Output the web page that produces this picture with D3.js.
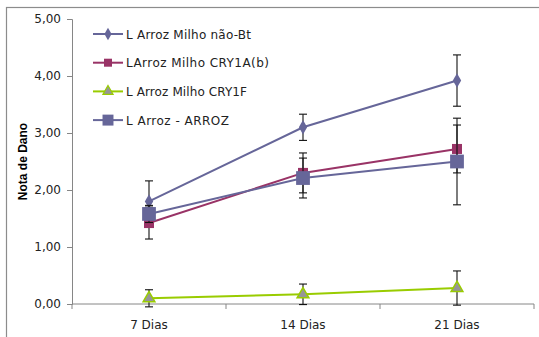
<!DOCTYPE html>
<html>
<head>
<meta charset="utf-8">
<script src="https://cdn.jsdelivr.net/npm/d3@7"></script>
<style>
  body { margin: 0; background: #fff; }
  svg { display: block; font-family: "DejaVu Sans", Verdana, sans-serif; }
</style>
</head>
<body>
<div id="vis"></div>
<script>
const categories = ["7 Dias", "14 Dias", "21 Dias"];
const yTicks = [0, 1, 2, 3, 4, 5];

const seriesNames = ["L Arroz Milho não-Bt", "LArroz Milho CRY1A(b)", "L Arroz Milho CRY1F", "L Arroz - ARROZ"];
const naoBt = [1.80, 3.10, 3.92];
const naoBtErr = [0.36, 0.23, 0.45];
const cry1ab = [1.42, 2.30, 2.72];
const cry1abErr = [0.28, 0.35, 0.42];
const cry1f = [0.10, 0.17, 0.28];
const cry1fErr = [0.15, 0.18, 0.30];
const arroz = [1.58, 2.21, 2.50];
const arrozErr = [0.15, 0.35, 0.76];

// legend text widths as drawn in the original
const legendWidths = [125, 143, 121, 103];

const series = [
  { name: seriesNames[0], values: naoBt, err: naoBtErr, color: "#666699", fill: "#666699", stroke: "none", shape: d3.symbolDiamond, size: 60, legSize: 45 },
  { name: seriesNames[1], values: cry1ab, err: cry1abErr, color: "#993366", fill: "#993366", stroke: "none", shape: d3.symbolSquare, size: 100, legSize: 64 },
  { name: seriesNames[2], values: cry1f, err: cry1fErr, color: "#99cc00", fill: "#969696", stroke: "#99cc00", shape: d3.symbolTriangle, size: 60, legSize: 45 },
  { name: seriesNames[3], values: arroz, err: arrozErr, color: "#666699", fill: "#666699", stroke: "none", shape: d3.symbolSquare, size: 190, legSize: 120 }
];

const W = 539, H = 337;
const margin = { top: 19, right: 5, bottom: 33, left: 72 };
const width = W - margin.left - margin.right;
const height = H - margin.top - margin.bottom;

const svg = d3.select("#vis").append("svg")
    .attr("width", W)
    .attr("height", H);

// outer chart border
svg.append("rect")
    .attr("x", 6.5).attr("y", 7.5)
    .attr("width", W + 10).attr("height", H + 10)
    .attr("fill", "none")
    .attr("stroke", "#8c8c8c")
    .attr("stroke-width", 1.2);

const g = svg.append("g")
    .attr("transform", `translate(${margin.left}, ${margin.top})`);

const x = d3.scaleBand()
    .domain(categories)
    .range([0, width]);

const y = d3.scaleLinear()
    .domain([0, 5])
    .range([height, 0]);

// y axis
const yAxis = g.append("g")
    .call(d3.axisLeft(y).tickValues(yTicks).tickSize(5).tickPadding(6)
        .tickFormat(d => d3.format(".2f")(d).replace(".", ",")));
yAxis.select(".domain").attr("stroke", "#868686");
yAxis.selectAll(".tick line").attr("stroke", "#868686");
yAxis.selectAll("text").attr("font-size", 12).attr("font-family", "DejaVu Sans").attr("fill", "#222");

// x axis: line, boundary ticks, centred labels
const xAxis = g.append("g").attr("transform", `translate(0, ${height})`);
xAxis.append("line")
    .attr("x1", 0).attr("x2", width)
    .attr("stroke", "#868686");
const edges = categories.map(c => x(c)).concat([x.range()[1]]);
xAxis.selectAll(".edge").data(edges).enter().append("line")
    .attr("x1", d => d).attr("x2", d => d)
    .attr("y1", 0).attr("y2", 5)
    .attr("stroke", "#868686");
xAxis.selectAll(".lab").data(categories).enter().append("text")
    .attr("x", d => x(d) + x.bandwidth() / 2)
    .attr("y", 25)
    .attr("text-anchor", "middle")
    .attr("font-size", 12)
    .attr("fill", "#222")
    .text(d => d);

// y title
svg.append("text")
    .attr("transform", `translate(27, ${margin.top + height / 2}) rotate(-90)`)
    .attr("text-anchor", "middle")
    .attr("font-family", "Liberation Sans, Arial, sans-serif")
    .attr("font-size", 12)
    .attr("font-weight", "bold")
    .text("Nota de Dano");

const cx = c => x(c) + x.bandwidth() / 2;

const line = d3.line()
    .x((d, i) => cx(categories[i]))
    .y(d => y(d));

series.forEach(s => {
    const sg = g.append("g");
    sg.append("path")
        .attr("d", line(s.values))
        .attr("fill", "none")
        .attr("stroke", s.color)
        .attr("stroke-width", 2);

    // error bars
    s.values.forEach((v, i) => {
        const px = cx(categories[i]);
        const lo = y(v - s.err[i]), hi = y(v + s.err[i]);
        sg.append("line")
            .attr("x1", px).attr("x2", px).attr("y1", lo).attr("y2", hi)
            .attr("stroke", "#111").attr("stroke-width", 1.1);
        [lo, hi].forEach(yy => {
            sg.append("line")
                .attr("x1", px - 4).attr("x2", px + 4).attr("y1", yy).attr("y2", yy)
                .attr("stroke", "#111").attr("stroke-width", 1.1);
        });
    });

    sg.selectAll(".pt").data(s.values).enter().append("path")
        .attr("transform", (d, i) => `translate(${cx(categories[i])}, ${y(d)})`)
        .attr("d", d3.symbol().type(s.shape).size(s.size))
        .attr("fill", s.fill)
        .attr("stroke", s.stroke)
        .attr("stroke-width", 1.5);
});

// legend
const legend = svg.append("g").attr("transform", "translate(93, 34)");
series.forEach((s, i) => {
    const row = legend.append("g").attr("transform", `translate(0, ${i * 28.7})`);
    row.append("line")
        .attr("x1", 0).attr("x2", 30)
        .attr("stroke", s.color).attr("stroke-width", 2);
    row.append("path")
        .attr("transform", "translate(15, 0)")
        .attr("d", d3.symbol().type(s.shape).size(s.legSize))
        .attr("fill", s.fill)
        .attr("stroke", s.stroke)
        .attr("stroke-width", 1.2);
    row.append("text")
        .attr("x", 33)
        .attr("y", 4.5)
        .attr("font-size", 12)
        .attr("fill", "#222")
        .attr("textLength", legendWidths[i])
        .attr("lengthAdjust", "spacing")
        .text(s.name);
});
</script>
</body>
</html>
